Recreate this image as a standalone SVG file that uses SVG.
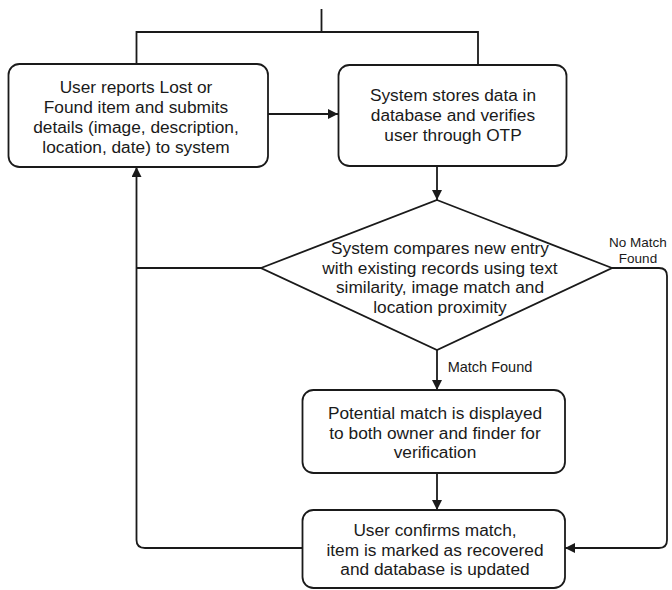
<svg xmlns="http://www.w3.org/2000/svg" width="672" height="590" viewBox="0 0 672 590">
<defs>
<marker id="ah" viewBox="0 0 10 10" refX="10" refY="5" markerWidth="10" markerHeight="10" markerUnits="userSpaceOnUse" orient="auto">
<path d="M0,0 L10,5 L0,10 Z" fill="#1a1a1a"/>
</marker>
<style>
.box{fill:#fff;stroke:#1a1a1a;stroke-width:1.8}
.ln{fill:none;stroke:#1a1a1a;stroke-width:1.8}
.t{font-family:"Liberation Sans",Arial,sans-serif;font-size:17.3px;fill:#1a1a1a;text-anchor:middle}
.s{font-family:"Liberation Sans",Arial,sans-serif;font-size:13.5px;fill:#1a1a1a;text-anchor:middle}
</style>
</defs>
<rect width="672" height="590" fill="#fff"/>
<g id="connectors">
<path class="ln" d="M321.5,9 V32 M136.5,64 V32 H478 V64"/>
<path class="ln" d="M268,114 H338" marker-end="url(#ah)"/>
<path class="ln" d="M437,166 V200" marker-end="url(#ah)"/>
<path class="ln" d="M437,350 V390" marker-end="url(#ah)"/>
<path class="ln" d="M437,473 V510" marker-end="url(#ah)"/>
<path class="ln" d="M261,268 H136.5"/>
<path class="ln" d="M302.5,548 H145 Q136.5,548 136.5,540 V167" marker-end="url(#ah)"/>
<path class="ln" d="M612,268 H659 Q667,268 667,276 V540 Q667,548 659,548 H565" marker-end="url(#ah)"/>
<text class="s" x="490" y="372" style="font-size:14.5px">Match Found</text>
<text class="s"><tspan x="638" y="247">No Match</tspan><tspan x="638" y="262.5">Found</tspan></text>
</g>
<g id="n1">
<rect class="box" x="8.5" y="64" width="259.5" height="103" rx="11"/>
<text class="t"><tspan x="136" y="93">User reports Lost or</tspan><tspan x="136" y="113">Found item and submits</tspan><tspan x="136" y="133">details (image, description,</tspan><tspan x="136" y="153">location, date) to system</tspan></text>
</g>
<g id="n2">
<rect class="box" x="338.5" y="65" width="228" height="101" rx="11"/>
<text class="t"><tspan x="453" y="101">System stores data in</tspan><tspan x="453" y="121">database and verifies</tspan><tspan x="453" y="141">user through OTP</tspan></text>
</g>
<g id="n3">
<polygon class="box" points="437,200 612,268 437,350 261,268"/>
<text class="t"><tspan x="440" y="254">System compares new entry</tspan><tspan x="440" y="273.5">with existing records using text</tspan><tspan x="440" y="293">similarity, image match and</tspan><tspan x="440" y="312.5">location proximity</tspan></text>
</g>
<g id="n4">
<rect class="box" x="302.5" y="390" width="262.5" height="83" rx="11"/>
<text class="t"><tspan x="435" y="419">Potential match is displayed</tspan><tspan x="435" y="438.5">to both owner and finder for</tspan><tspan x="435" y="458">verification</tspan></text>
</g>
<g id="n5">
<rect class="box" x="302.5" y="510" width="262.5" height="78" rx="11"/>
<text class="t"><tspan x="435" y="536">User confirms match,</tspan><tspan x="435" y="555.5">item is marked as recovered</tspan><tspan x="435" y="575">and database is updated</tspan></text>
</g>
</svg>
